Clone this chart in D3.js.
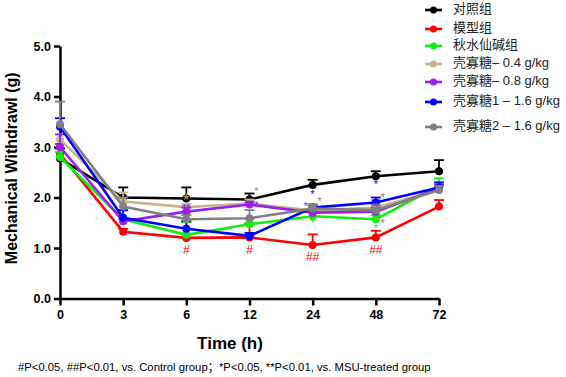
<!DOCTYPE html>
<html>
<head>
<meta charset="utf-8">
<script src="https://cdn.jsdelivr.net/npm/d3@7"></script>
<style>
  body { margin: 0; background: #fff; }
  svg { display: block; font-family: Arial, "Liberation Sans", "Noto Sans CJK SC", sans-serif; }
</style>
</head>
<body>
<div id="chart"></div>
<script>
// time points (h)
const times = ["0", "3", "6", "12", "24", "48", "72"]
const yTicks = [0, 1, 2, 3, 4, 5]

// group names
const groups = ["对照组", "模型组", "秋水仙碱组", "壳寡糖– 0.4 g/kg", "壳寡糖– 0.8 g/kg", "壳寡糖1 – 1.6 g/kg", "壳寡糖2 – 1.6 g/kg"]
const colors = ["#000000", "#ff0000", "#11ee11", "#c8b48c", "#9b1ff0", "#0000ff", "#808080"]

// mean values
const control   = [2.77, 2.00, 1.98, 1.96, 2.25, 2.42, 2.52]
const model     = [2.86, 1.32, 1.20, 1.21, 1.06, 1.21, 1.82]
const colchicine= [2.80, 1.57, 1.26, 1.47, 1.63, 1.57, 2.23]
const cos04     = [3.15, 1.92, 1.81, 1.88, 1.74, 1.80, 2.15]
const cos08     = [3.00, 1.53, 1.72, 1.86, 1.70, 1.72, 2.18]
const cos16a    = [3.40, 1.60, 1.38, 1.24, 1.80, 1.90, 2.20]
const cos16b    = [3.45, 1.82, 1.57, 1.59, 1.78, 1.75, 2.15]

// SEM (upper error bars)
const controlErr   = [0.20, 0.20, 0.22, 0.12, 0.10, 0.10, 0.22]
const modelErr     = [0.20, 0.06, 0.08, 0.28, 0.21, 0.13, 0.13]
const colchicineErr= [0.10, 0.17, 0.25, 0.10, 0.10, 0.08, 0.15]
const cos04Err     = [0.10, 0.18, 0.06, 0.08, 0.08, 0.15, 0.08]
const cos08Err     = [0.25, 0.05, 0.08, 0.05, 0.06, 0.08, 0.08]
const cos16aErr    = [0.17, 0.15, 0.15, 0.06, 0.06, 0.10, 0.10]
const cos16bErr    = [0.45, 0.18, 0.08, 0.16, 0.08, 0.10, 0.08]

const seriesValues = [control, model, colchicine, cos04, cos08, cos16a, cos16b]
const seriesErrors = [controlErr, modelErr, colchicineErr, cos04Err, cos08Err, cos16aErr, cos16bErr]

// significance marks: [time, value, text, group index]
const marks = [
  ["6", 0.95, "#", 1], ["12", 0.95, "#", 1], ["24", 0.80, "##", 1], ["48", 0.95, "##", 1],
  ["6", 2.01, "★", 3], ["6", 1.77, "**", 4],
  ["12", 2.10, "*", 3], ["12", 1.83, "*", 4],
  ["24", 2.05, "*", 5], ["24", 1.80, "*", 4], ["24", 1.90, "*", 6], ["24", 1.48, "*", 2],
  ["48", 2.24, "*", 5], ["48", 1.98, "*", 6], ["48", 1.80, "*", 4], ["48", 1.38, "*", 2], ["48", 1.48, "*", 6]
]
// horizontal nudge (px) of each mark relative to the point
const markDx = [0, 0, 0, 0, 0, 0, 7, 7, 0, -7, 7, 0, 0, 7, 0, 0, 7]

const footnote = "#P<0.05,  ##P<0.01,  vs. Control group；*P<0.05, **P<0.01,  vs. MSU-treated group"

const width = 566, height = 377
const svg = d3.select("#chart").append("svg")
  .attr("width", width).attr("height", height)

const x = d3.scalePoint().domain(times).range([60, 439]).padding(0)
const y = d3.scaleLinear().domain([0, 5]).range([298.5, 46])

// Axes
const xAxis = svg.append("g")
  .attr("transform", `translate(0,${y(0)})`)
  .call(d3.axisBottom(x).tickSize(7).tickSizeOuter(0).tickPadding(5))
const yAxis = svg.append("g")
  .attr("transform", `translate(${x("0")},0)`)
  .call(d3.axisLeft(y).tickValues(yTicks).tickFormat(d3.format(".1f")).tickSize(6).tickSizeOuter(0).tickPadding(3))

for (const ax of [xAxis, yAxis]) {
  ax.select(".domain").attr("stroke", "#000").attr("stroke-width", 2.5)
  ax.selectAll(".tick line").attr("stroke", "#000").attr("stroke-width", 2.5)
  ax.selectAll(".tick text").attr("fill", "#000").attr("font-size", 12.5).attr("font-weight", "bold")
}

// Series
const line = d3.line().x((d, i) => x(times[i])).y(d => y(d))
seriesValues.forEach((vals, k) => {
  const g = svg.append("g")
  const errs = seriesErrors[k]
  // error bars
  vals.forEach((v, i) => {
    const cx = x(times[i])
    g.append("line").attr("x1", cx).attr("x2", cx).attr("y1", y(v)).attr("y2", y(v + errs[i]))
      .attr("stroke", colors[k]).attr("stroke-width", 1.8)
    g.append("line").attr("x1", cx - 5).attr("x2", cx + 5).attr("y1", y(v + errs[i])).attr("y2", y(v + errs[i]))
      .attr("stroke", colors[k]).attr("stroke-width", 1.8)
  })
  g.append("path").datum(vals).attr("d", line)
    .attr("fill", "none").attr("stroke", colors[k]).attr("stroke-width", 2.6)
  g.selectAll("circle").data(vals).join("circle")
    .attr("cx", (d, i) => x(times[i])).attr("cy", d => y(d)).attr("r", 4)
    .attr("fill", colors[k])
})

// Significance marks
svg.append("g").selectAll("text").data(marks).join("text")
  .attr("x", (d, i) => x(d[0]) + markDx[i])
  .attr("y", d => y(d[1]))
  .attr("text-anchor", "middle")
  .attr("dominant-baseline", "middle")
  .attr("font-size", d => d[2] === "★" ? 8 : (d[2] === "#" || d[2] === "##" ? 12 : 10.5))
  .attr("fill", d => d[3] === 3 ? "#a89040" : colors[d[3]])
  .text(d => d[2])

// Axis titles
svg.append("text")
  .attr("transform", `translate(17,${(y(0) + y(5)) / 2 - 4}) rotate(-90)`)
  .attr("text-anchor", "middle")
  .attr("font-size", 16).attr("font-weight", "bold")
  .text("Mechanical Withdrawl (g)")

svg.append("text")
  .attr("x", 230).attr("y", 345)
  .attr("text-anchor", "middle").attr("dominant-baseline", "middle")
  .attr("font-size", 17).attr("font-weight", "bold")
  .text("Time (h)")

svg.append("text")
  .attr("x", 18).attr("y", 368)
  .attr("dominant-baseline", "middle")
  .attr("font-size", 11.3)
  .text(footnote)

// Legend
const legendY = [10, 29, 46, 64, 82, 102, 127]
const legend = svg.append("g")
groups.forEach((name, k) => {
  const row = legend.append("g").attr("transform", `translate(425,${legendY[k]})`)
  row.append("line").attr("x1", 0).attr("x2", 17).attr("stroke", colors[k]).attr("stroke-width", 2.6)
  row.append("circle").attr("cx", 8.5).attr("r", 3.5).attr("fill", colors[k])
  row.append("text").attr("x", 28).attr("dominant-baseline", "middle")
    .attr("font-size", 13).attr("fill", "#222").text(name)
})
</script>
</body>
</html>
